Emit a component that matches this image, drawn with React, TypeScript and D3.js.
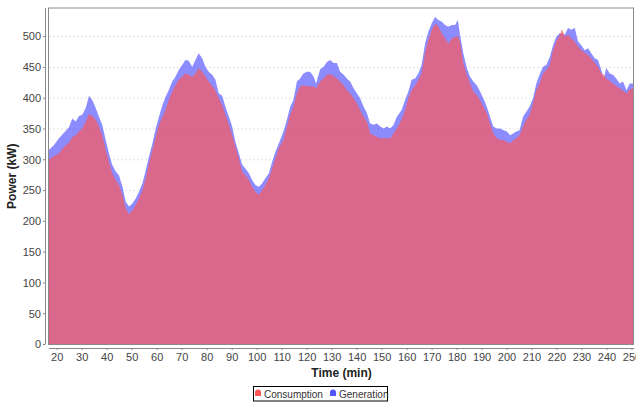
import React from 'react';
import * as d3 from 'd3';

// time in minutes, power in kW
const timeMin = [
  16.7, 18.7, 20.7, 22.7, 24.7, 26.0, 27.4, 28.7, 30.0, 31.4, 32.7, 34.0, 35.4, 36.7, 38.0, 39.4,
  40.7, 42.0, 43.4, 44.7, 46.1, 47.4, 48.7, 50.1, 51.4, 52.7, 54.1, 55.4, 56.7, 58.1, 59.4, 60.7,
  62.1, 63.3, 64.6, 66.0, 67.3, 68.6, 70.0, 71.3, 72.6, 74.0, 75.3, 76.6, 78.0, 79.3, 80.6, 82.0,
  83.3, 84.6, 86.0, 87.3, 88.7, 90.0, 91.3, 92.7, 94.0, 95.3, 96.7, 98.0, 99.3, 100.7, 102.0, 103.3,
  104.7, 106.0, 107.3, 108.7, 110.5, 111.9, 113.2, 114.5, 115.9, 117.2, 118.5, 119.9, 121.2, 122.6, 123.6, 125.2,
  126.6, 127.9, 129.2, 130.6, 131.9, 133.2, 134.6, 135.9, 137.2, 138.6, 139.9, 141.2, 142.6, 143.9, 145.2, 146.6,
  147.9, 149.3, 150.6, 151.9, 153.3, 154.6, 155.9, 157.8, 159.2, 160.5, 161.8, 163.2, 164.5, 165.8, 167.2, 168.5,
  169.9, 171.2, 172.5, 173.9, 175.2, 176.5, 177.9, 179.2, 180.3, 181.2, 182.5, 183.9, 185.2, 186.5, 187.9, 189.2,
  190.5, 191.9, 193.2, 194.5, 195.9, 197.2, 198.6, 199.9, 201.2, 202.6, 203.7, 205.0, 206.4, 207.7, 209.0, 210.4,
  211.7, 213.0, 214.4, 215.7, 217.1, 218.4, 219.7, 221.1, 222.1, 223.1, 224.4, 225.7, 227.1, 228.4, 229.7, 231.1,
  232.4, 233.7, 235.1, 236.4, 237.7, 238.7, 239.7, 241.1, 242.4, 243.7, 245.1, 246.4, 247.8, 249.1, 250.7,
];

const consumption = [
  300, 306, 310, 321, 328, 337, 340, 346, 351, 362, 374, 371, 365, 354, 340, 316,
  297, 278, 267, 259, 243, 221, 212, 218, 227, 237, 251, 270, 294, 316, 337, 357,
  370, 381, 397, 411, 421, 430, 435, 440, 438, 435, 440, 449, 443, 435, 427, 420,
  413, 400, 389, 373, 357, 340, 321, 302, 281, 275, 267, 256, 248, 243, 251, 259,
  270, 286, 302, 319, 332, 354, 373, 386, 408, 419, 421, 420, 419, 419, 416, 427,
  432, 438, 439, 436, 432, 427, 421, 413, 408, 400, 392, 381, 370, 362, 343, 340,
  337, 335, 335, 335, 335, 343, 351, 365, 381, 400, 413, 421, 430, 440, 473, 495,
  511, 521, 517, 505, 497, 489, 497, 500, 501, 492, 457, 438, 424, 411, 405, 397,
  386, 376, 359, 343, 335, 332, 332, 329, 327, 332, 335, 340, 354, 365, 373, 392,
  413, 424, 440, 446, 454, 478, 492, 503, 512, 500, 503, 497, 492, 484, 478, 474,
  470, 465, 457, 451, 440, 438, 432, 428, 424, 420, 416, 412, 408, 414, 416,
];

const generation = [
  316, 324, 335, 344, 353, 367, 362, 371, 373, 384, 404, 397, 384, 370, 357, 332,
  310, 292, 281, 275, 256, 232, 224, 229, 237, 248, 262, 283, 305, 327, 351, 370,
  389, 402, 413, 427, 435, 446, 454, 462, 461, 451, 462, 473, 465, 451, 443, 438,
  430, 408, 404, 386, 370, 354, 329, 310, 292, 286, 278, 267, 259, 256, 262, 270,
  278, 297, 313, 327, 346, 365, 386, 397, 427, 432, 440, 443, 443, 435, 424, 447,
  451, 459, 462, 457, 457, 443, 438, 432, 427, 416, 408, 400, 386, 376, 359, 357,
  359, 354, 351, 354, 351, 357, 370, 381, 397, 411, 430, 432, 440, 454, 489, 508,
  522, 532, 527, 524, 519, 516, 519, 519, 527, 503, 473, 449, 435, 427, 421, 411,
  400, 386, 370, 354, 351, 351, 348, 346, 340, 343, 346, 348, 370, 378, 386, 400,
  424, 438, 451, 454, 467, 486, 500, 506, 505, 503, 514, 511, 514, 492, 486, 478,
  481, 473, 465, 462, 446, 432, 449, 440, 438, 432, 424, 427, 413, 424, 424,
];

const yTicks = [0, 50, 100, 150, 200, 250, 300, 350, 400, 450, 500];
const xTicks = d3.range(20, 251, 10);

const seriesNames = ['Consumption', 'Generation'];
const seriesColors = ['#ff5555', '#5555ff'];

const W = 636;
const H = 402;
const plot = { left: 49, right: 634, top: 8, bottom: 344.5 };
const font = '"Liberation Sans", Arial, sans-serif';

export default function App() {
  const x = d3.scaleLinear().domain([16.7, 250.8]).range([plot.left, plot.right]);
  const y = d3.scaleLinear().domain([0, 546.5]).range([plot.bottom, plot.top]);

  const makeArea = (vals: number[]) =>
    d3.area<number>()
      .x((_, i) => x(timeMin[i]))
      .y0(y(0))
      .y1(d => y(d))(vals) || '';

  const yAxisX = 45;
  const xAxisY = 348;

  return (
    <div style={{ position: 'absolute', left: 0, top: 0 }}>
      <svg width={W} height={H} style={{ display: 'block', background: '#fff' }}>
        {/* gridlines */}
        {yTicks.map(t => (
          <line key={'g' + t} x1={plot.left} x2={plot.right} y1={y(t)} y2={y(t)}
            stroke="#dadada" strokeWidth={0.8} strokeDasharray="2,2" />
        ))}

        {/* generation under, consumption on top */}
        <path d={makeArea(generation)} fill={seriesColors[1]} fillOpacity={0.68} />
        <path d={makeArea(consumption)} fill={seriesColors[0]} fillOpacity={0.68} />

        {/* plot outline */}
        <rect x={plot.left - 0.5} y={plot.top} width={plot.right - plot.left} height={plot.bottom - plot.top}
          fill="none" stroke="#8a8a8a" strokeWidth={1} />

        {/* y axis */}
        <line x1={yAxisX + 0.5} x2={yAxisX + 0.5} y1={plot.top} y2={plot.bottom} stroke="#8a8a8a" />
        {yTicks.map(t => (
          <g key={'y' + t}>
            <line x1={yAxisX - 2} x2={yAxisX} y1={y(t)} y2={y(t)} stroke="#8a8a8a" />
            <text x={yAxisX - 4} y={y(t)} dy="0.35em" textAnchor="end"
              fontFamily={font} fontSize={11} fill="#444">{t}</text>
          </g>
        ))}
        <text transform={`translate(16, ${(plot.top + plot.bottom) / 2}) rotate(-90)`}
          textAnchor="middle" fontFamily={font} fontSize={12} fontWeight="bold" fill="#222">
          Power (kW)
        </text>

        {/* x axis */}
        <line x1={plot.left} x2={plot.right} y1={xAxisY + 0.5} y2={xAxisY + 0.5} stroke="#8a8a8a" />
        {xTicks.map(t => (
          <g key={'x' + t}>
            <line x1={x(t)} x2={x(t)} y1={xAxisY} y2={xAxisY + 2} stroke="#8a8a8a" />
            <text x={x(t)} y={361} textAnchor="middle"
              fontFamily={font} fontSize={11} fill="#444">{t}</text>
          </g>
        ))}
        <text x={(plot.left + plot.right) / 2} y={377} textAnchor="middle"
          fontFamily={font} fontSize={12} fontWeight="bold" fill="#222">
          Time (min)
        </text>

        {/* legend */}
        <rect x={253.5} y={386.5} width={134} height={14.5} fill="#fff" stroke="#000" />
        {seriesNames.map((name, i) => {
          const lx = i === 0 ? 258 : 333;
          return (
            <g key={name}>
              <path d={`M${lx - 3},${396} L${lx - 3},${392.5} A3,3 0 0 1 ${lx + 3},${392.5} L${lx + 3},${396} Z`}
                fill={seriesColors[i]} />
              <text x={lx + 6} y={397.5} fontFamily={font} fontSize={10} fill="#333">{name}</text>
            </g>
          );
        })}
      </svg>
    </div>
  );
}
